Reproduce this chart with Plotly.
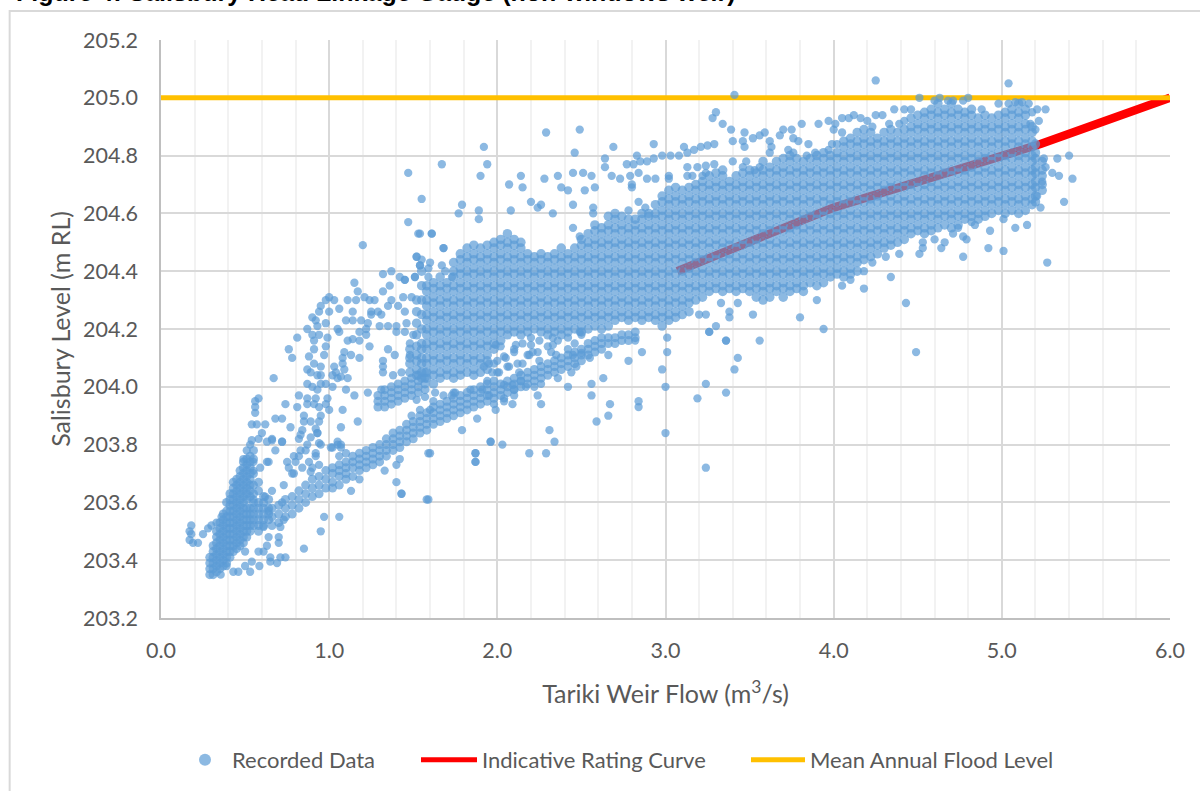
import plotly.graph_objects as go

# ---- Flow in m3/s, level in m RL. ----
# Main cloud: each row is one flow value and the levels read there, in cm above 204 m RL.
band_rows = [
(1.58,[3,5,8,10,13,15,18,20,23,25,28,30,33,35]),
(1.62,[1,4,6,9,11,14,16,19,21,24,26,29,31,34,36]),
(1.66,[3,5,8,10,13,15,18,20,23,25,28,30,33,35,38]),
(1.70,[4,6,9,11,14,16,19,21,24,26,29,31,34,36]),
(1.74,[3,5,8,10,13,15,18,20,23,25,28,30,33,35,38,40,43]),
(1.78,[4,6,9,11,14,16,19,21,24,26,29,31,34,36,39,41,44,46]),
(1.82,[5,8,10,13,15,18,20,23,25,28,30,33,35,38,40,43,45,48]),
(1.86,[4,6,9,11,14,16,19,21,24,26,29,31,34,36,39,41,44,46,49]),
(1.90,[5,8,10,13,15,18,20,23,25,28,30,33,35,38,40,43,45,48]),
(1.94,[6,9,11,14,16,19,21,24,26,29,31,34,36,39,41,44,46,49]),
(1.98,[13,15,18,20,23,25,28,30,33,35,38,40,43,45,48,50]),
(2.02,[16,19,21,24,26,29,31,34,36,39,41,44,46,49,51]),
(2.06,[18,20,23,25,28,30,33,35,38,40,43,45,48,50,53]),
(2.10,[19,21,24,26,29,31,34,36,39,41,44,46,49,51]),
(2.14,[18,20,23,25,28,30,33,35,38,40,43,45,48,50]),
(2.18,[19,21,24,26,29,31,34,36,39,41,44,46]),
(2.22,[20,23,25,28,30,33,35,38,40,43,45]),
(2.26,[19,21,24,26,29,31,34,36,39,41,44,46]),
(2.30,[18,20,23,25,28,30,33,35,38,40,43,45]),
(2.34,[19,21,24,26,29,31,34,36,39,41,44,46]),
(2.38,[18,20,23,25,28,30,33,35,38,40,43,45,48]),
(2.42,[19,21,24,26,29,31,34,36,39,41,44,46]),
(2.46,[20,23,25,28,30,33,35,38,40,43,45,48]),
(2.50,[19,21,24,26,29,31,34,36,39,41,44,46,49,51]),
(2.54,[20,23,25,28,30,33,35,38,40,43,45,48,50,53]),
(2.58,[21,24,26,29,31,34,36,39,41,44,46,49,51,54,56]),
(2.62,[20,23,25,28,30,33,35,38,40,43,45,48,50,53,55]),
(2.66,[21,24,26,29,31,34,36,39,41,44,46,49,51,54,56,59]),
(2.70,[23,25,28,30,33,35,38,40,43,45,48,50,53,55,58,60]),
(2.74,[24,26,29,31,34,36,39,41,44,46,49,51,54,56,59]),
(2.78,[23,25,28,30,33,35,38,40,43,45,48,50,53,55,58]),
(2.82,[24,26,29,31,34,36,39,41,44,46,49,51,54,56,58]),
(2.86,[23,25,28,30,33,35,38,40,43,45,48,50,53,55,58,60]),
(2.90,[24,26,29,31,34,36,39,41,44,46,49,51,54,56,59,60]),
(2.94,[23,25,28,30,33,35,38,40,43,45,48,50,53,55,58,60,63]),
(2.98,[21,24,26,29,31,34,36,39,41,44,46,49,51,54,56,59,61,64,66]),
(3.02,[23,25,28,30,33,35,38,40,43,45,48,50,53,55,58,60,63,65,68]),
(3.06,[24,26,29,31,34,36,39,41,44,46,49,51,54,56,59,61,64,66,69]),
(3.10,[25,28,30,33,35,38,40,43,45,48,50,53,55,58,60,63,65,68]),
(3.14,[26,29,31,34,36,39,41,44,46,49,51,54,56,59,61,64,66,69]),
(3.18,[30,33,35,38,40,43,45,48,50,53,55,58,60,63,65,68,70]),
(3.22,[31,34,36,39,41,44,46,49,51,54,56,59,61,64,66,69,71]),
(3.26,[33,35,38,40,43,45,48,50,53,55,58,60,63,65,68,70,73]),
(3.30,[34,36,39,41,44,46,49,51,54,56,59,61,64,66,69,71,74]),
(3.34,[33,35,38,40,43,45,48,50,53,55,58,60,63,65,68,70,73,75]),
(3.38,[34,36,39,41,44,46,49,51,54,56,59,61,64,66,69,71]),
(3.42,[33,35,38,40,43,45,48,50,53,55,58,60,63,65,68,70,73]),
(3.46,[34,36,39,41,44,46,49,51,54,56,59,61,64,66,69,71,74]),
(3.50,[33,35,38,40,43,45,48,50,53,55,58,60,63,65,68,70,73,75]),
(3.54,[31,34,36,39,41,44,46,49,51,54,56,59,61,64,66,69,71,74]),
(3.58,[30,33,35,38,40,43,45,48,50,53,55,58,60,63,65,68,70,73,75,78]),
(3.62,[31,34,36,39,41,44,46,49,51,54,56,59,61,64,66,69,71,74,76]),
(3.66,[33,35,38,40,43,45,48,50,53,55,58,60,63,65,68,70,73,75,78]),
(3.70,[31,34,36,39,41,44,46,49,51,54,56,59,61,64,66,69,71,74,76,79]),
(3.74,[33,35,38,40,43,45,48,50,53,55,58,60,63,65,68,70,73,75,78,80]),
(3.78,[34,36,39,41,44,46,49,51,54,56,59,61,64,66,69,71,74,76,79]),
(3.82,[33,35,38,40,43,45,48,50,53,55,58,60,63,65,68,70,73,75,78]),
(3.86,[36,39,41,44,46,49,51,54,56,59,61,64,66,69,71,74,76,79]),
(3.90,[35,38,40,43,45,48,50,53,55,58,60,63,65,68,70,73,75,78,80]),
(3.94,[36,39,41,44,46,49,51,54,56,59,61,64,66,69,71,74,76,79,81]),
(3.98,[38,40,43,45,48,50,53,55,58,60,63,65,68,70,73,75,78,80]),
(4.02,[39,41,44,46,49,51,54,56,59,61,64,66,69,71,74,76,79,81]),
(4.06,[38,40,43,45,48,50,53,55,58,60,63,65,68,70,73,75,78,80,83,85]),
(4.10,[39,41,44,46,49,51,54,56,59,61,64,66,69,71,74,76,79,81,84,86]),
(4.14,[40,43,45,48,50,53,55,58,60,63,65,68,70,73,75,78,80,83,85,88]),
(4.18,[44,46,49,51,54,56,59,61,64,66,69,71,74,76,79,81,84,86,89]),
(4.22,[45,48,50,53,55,58,60,63,65,68,70,73,75,78,80,83,85,88]),
(4.26,[46,49,51,54,56,59,61,64,66,69,71,74,76,79,81,84,86]),
(4.30,[48,50,53,55,58,60,63,65,68,70,73,75,78,80,83,85,88]),
(4.34,[49,51,54,56,59,61,64,66,69,71,74,76,79,81,84,86,89]),
(4.38,[50,53,55,58,60,63,65,68,70,73,75,78,80,83,85,88]),
(4.42,[51,54,56,59,61,64,66,69,71,74,76,79,81,84,86,89]),
(4.46,[53,55,58,60,63,65,68,70,73,75,78,80,83,85,88,90,93]),
(4.50,[54,56,59,61,64,66,69,71,74,76,79,81,84,86,89,91,94]),
(4.54,[53,55,58,60,63,65,68,70,73,75,78,80,83,85,88,90,93,95]),
(4.58,[54,56,59,61,64,66,69,71,74,76,79,81,84,86,89,91,94,96]),
(4.62,[55,58,60,63,65,68,70,73,75,78,80,83,85,88,90,93,95,98]),
(4.66,[56,59,61,64,66,69,71,74,76,79,81,84,86,89,91,94,96]),
(4.70,[55,58,60,63,65,68,70,73,75,78,80,83,85,88,90,93,95,98]),
(4.74,[56,59,61,64,66,69,71,74,76,79,81,84,86,89,91,94,96]),
(4.78,[58,60,63,65,68,70,73,75,78,80,83,85,88,90,93,95]),
(4.82,[59,61,64,66,69,71,74,76,79,81,84,86,89,91,94,96]),
(4.86,[58,60,63,65,68,70,73,75,78,80,83,85,88,90,93]),
(4.90,[59,61,64,66,69,71,74,76,79,81,84,86,89,91,94]),
(4.94,[60,63,65,68,70,73,75,78,80,83,85,88,90,93]),
(4.98,[61,64,66,69,71,74,76,79,81,84,86,89,91,94]),
(5.02,[60,63,65,68,70,73,75,78,80,83,85,88,90,93,95]),
(5.06,[61,64,66,69,71,74,76,79,81,84,86,89,91,94,96]),
(5.10,[60,63,65,68,70,73,75,78,80,83,85,88,90,93,95,98]),
(5.14,[61,64,66,69,71,74,76,79,81,84,86,89,91,94,96]),
(5.18,[63,65,68,70,73,75,78,80,83,85,88,90]),
(5.20,[64,66,69,71,74,76,79,81,84]),
(5.24,[68,70,73,75,78]),
(1.48,[5,8,10,13]),
(1.52,[4,6,9,11,14,18,22,26,30]),
(1.55,[3,5,8,10,13,15,20,25,30,35,40]),
]

# Dense lower-left cluster and the long lower arm: levels in cm above 203 m RL.
low_rows = [
(.29,[35,37,39,41]),(.31,[35,37,39,41,43,45]),(.33,[36,38,40,42,44,46,48,50]),(.35,[37,39,41,43,45,47,49,51,53]),
(.37,[38,40,42,44,46,48,50,52,54,56]),(.39,[39,41,43,45,47,49,51,53,55,57,60]),
(.41,[41,43,45,47,49,51,53,55,57,59,61,63]),(.43,[43,45,47,49,51,53,55,57,59,61,63,65,67]),
(.45,[44,46,48,50,52,54,56,58,60,62,64,66,68]),(.47,[45,47,49,51,53,55,57,59,61,63,65,67,69,71]),
(.49,[46,48,50,52,54,56,58,60,62,64,66,68,70,72,74]),(.51,[48,50,52,54,56,58,61,63,65,67,69,71,73,75]),
(.53,[50,52,54,56,58,62,64,66,68,70,72,74,76]),(.55,[52,54,56,58,60,63,66,70,75,78]),
(.58,[50,52,54,56,58,60,64,67]),(.61,[52,54,56,58,60,62]),(.64,[54,56,58,61]),
(.66,[52,55,58]),(.70,[53,56,59]),(.74,[55,58,61]),(.78,[56,59,62]),(.82,[58,61,64]),
(.86,[60,63,66]),(.90,[62,65,68]),(.94,[63,66,69]),(.98,[65,68,71]),(1.02,[65,67,70,72]),
(1.06,[66,69,71,73]),(1.10,[68,70,72,74]),(1.14,[69,72,74,76]),(1.18,[71,73,75,77]),(1.22,[72,74,76,78]),
(1.26,[73,75,77,79]),(1.30,[74,76,78,80]),(1.34,[76,78,80,82]),(1.38,[78,80,82,84]),(1.42,[79,81,83,85]),
(1.46,[81,83,85,87]),(1.50,[82,84,86,88]),(1.54,[84,86,88,90]),(1.58,[85,87,89,91]),(1.62,[87,89,91,93]),
(1.66,[88,90,92,94]),(1.70,[89,91,93,95]),(1.74,[90,92,94,96]),(1.78,[91,93,95,97]),(1.82,[92,94,96,98]),
(1.86,[93,95,97,99]),(1.90,[94,96,98,100]),(1.94,[95,97,99,101]),(1.98,[96,98,100,102]),(2.02,[97,99,101]),
(2.06,[98,100,102]),(2.10,[99,101,103]),(2.14,[100,102,104]),(2.18,[101,103,105]),(2.22,[102,104,106]),
(2.26,[103,105,107]),(2.30,[104,106,108]),(2.34,[105,107,109]),(2.38,[106,108,110]),(2.42,[107,109,111]),
(2.46,[108,110,112]),(2.50,[109,111,113]),(2.54,[111,113,115]),(2.58,[112,114,116]),(2.62,[113,115,117]),
(2.66,[115,117]),(2.70,[115,117]),(2.74,[116,118]),(2.78,[116,118]),(2.82,[117,119]),
(1.29,[93,95,97]),(1.33,[93,95,97,99]),(1.37,[94,96,98,100]),(1.41,[95,97,99,101]),(1.45,[96,98,100,102]),
(1.49,[97,99,101,103]),(1.53,[98,100,102,104]),(1.57,[99,101,103,105]),
]

# Scattered single points read one by one.
scatter_x = [
.17,.18,.17,.19,.22,.25,.28,.30,.33,.36,.18,.355,.39,.43,.46,.53,.585,.50,.54,.65,.65,.69,.71,.74,.85,.70,.63,.70,.64,.58,.61,.50,
.95,.97,1.06,1.13,1.18,1.33,1.40,1.42,1.40,1.43,1.58,1.60,.75,.79,.83,.87,.63,.55,.66,.62,.55,.73,.79,.89,.94,.72,.66,.95,.93,1.01,1.05,1.07,1.06,1.10,.72,.64,.61,.71,.73,
.76,.80,.84,.88,.92,.78,.82,.86,.90,
1.54,1.61,1.20,1.68,1.52,1.54,1.32,1.37,1.42,1.45,1.51,1.15,1.36,1.32,1.17,1.21,1.24,1.27,1.37,1.44,1.49,1.11,1.16,1.00,1.03,.98,.95,.94,1.06,1.00,1.14,1.25,1.29,1.35,1.41,1.45,1.31,1.25,.90,.92,.98,1.10,1.14,1.19,1.23,1.46,.87,.93,1.05,1.06,1.22,1.30,1.35,1.40,1.40,1.45,1.18,1.22,1.50,.81,.90,.94,.99,.91,1.11,1.14,1.18,1.48,.98,1.24,.76,.91,1.35,.78,.88,.97,1.09,1.13,1.08,1.18,1.39,1.48,1.32,.91,1.08,.95,1.32,1.03,1.09,.87,.89,.93,.95,1.04,1.02,1.05,1.07,1.11,1.32,1.38,1.43,.67,.87,.90,.95,.98,1.02,.93,1.10,1.23,1.31,1.15,.82,.87,.92,.99,.56,.58,.74,.87,.81,.91,.94,.98,1.00,1.08,.56,.56,.85,.95,.68,.72,1.17,.85,.89,.94,.54,.57,.62,.77,1.07,.92,.93,.84,.60,.58,.83,.82,.89,.72,.66,.54,.63,.94,1.05,1.07,1.02,.92,1.87,1.87,1.96,.53,.51,.49,.55,.64,.68,.59,
3.01,3.01,3.26,3.36,3.43,3.41,2.98,3.00,3.24,3.19,3.36,3.00,3.24,2.63,2.56,2.56,2.67,2.66,2.59,2.84,2.84,2.78,2.86,2.66,2.82,2.36,2.42,2.44,2.24,2.26,2.31,2.34,2.19,2.29,1.96,2.03,1.87,1.87,1.59,1.59,1.43,1.79,1.88,1.99,1.98,2.04,2.04,2.09,1.84,1.74,1.94,
2.29,2.49,1.92,2.69,2.93,3.11,2.46,1.67,1.94,2.83,2.64,2.64,1.47,1.90,2.14,2.28,2.36,2.45,2.51,2.56,2.68,2.73,2.79,2.84,2.89,2.94,2.07,2.15,2.38,2.42,2.52,2.58,2.80,2.80,3.02,3.02,3.13,3.13,3.16,3.22,3.24,1.55,2.20,2.45,2.26,2.24,1.79,1.89,1.77,2.08,1.89,2.33,2.57,2.57,2.78,2.84,2.88,1.47,1.53,1.61,2.45,2.49,1.68,1.52,1.55,1.54,1.67,1.69,1.73,1.51,1.45,
2.77,2.81,2.85,2.89,2.93,2.98,3.03,3.08,3.13,3.17,3.21,3.25,3.29,3.19,3.24,3.29,
1.95,2.00,2.05,2.10,2.15,2.20,2.00,2.06,2.12,2.18,2.24,2.30,2.36,2.42,2.46,2.50,
3.41,4.25,5.04,3.30,3.28,3.34,3.39,3.47,3.46,3.40,3.47,3.52,3.56,3.59,3.68,3.70,3.75,3.81,3.91,3.97,4.01,3.76,3.79,3.85,3.62,3.63,3.62,3.73,3.76,3.40,3.48,3.46,3.53,3.56,3.84,3.89,3.97,3.99,4.02,4.00,4.05,4.05,4.09,4.12,4.16,4.20,4.23,4.33,4.25,4.29,4.36,4.42,4.46,4.39,4.42,4.51,4.60,4.63,4.68,4.71,4.77,4.80,4.88,4.98,5.04,5.08,5.12,5.16,5.21,5.26,5.18,5.17,5.22,5.20,
5.33,5.40,5.30,5.34,5.42,5.37,5.23,5.08,5.15,5.01,5.01,4.92,4.77,5.27,4.79,4.77,4.93,4.82,4.84,4.71,4.74,4.66,4.64,4.60,4.53,4.53,4.51,5.25,5.26,5.24,5.21,
4.39,4.31,4.23,4.18,4.10,4.05,4.34,4.43,4.18,3.90,3.80,3.94,3.52,3.38,3.38,3.43,3.33,3.30,3.26,3.36,3.56,3.24,3.20,4.49,1.59,1.59,1.60,
1.92,1.98,2.04,2.10,2.07,2.13,2.15,2.19,2.21,2.25,2.32,2.35,2.33,2.11,2.02,1.99,2.20,2.25,2.33,2.42,2.49,2.45,2.50,2.55,2.47,1.97,2.01,1.91,1.95,2.10,2.10,2.17,2.22,2.26,2.14,2.09,2.04,1.75,1.73,1.49,1.54,1.60,1.62,1.68,1.52,1.57,1.63,
]
scatter_y = [
203.50,203.52,203.47,203.46,203.46,203.49,203.51,203.52,203.53,203.55,203.49,203.35,203.38,203.36,203.36,203.36,203.38,203.38,203.395,203.41,203.395,203.39,203.41,203.41,203.44,203.46,203.45,203.48,203.48,203.43,203.43,203.43,
203.50,203.55,203.55,203.64,203.68,203.71,203.73,203.75,203.67,203.63,203.61,203.77,203.74,203.76,203.78,203.80,203.74,203.71,203.64,203.62,203.61,203.66,203.70,203.706,203.73,203.81,203.815,203.80,203.84,203.79,203.80,203.79,203.76,203.77,203.60,203.57,203.515,203.515,203.54,
203.72,203.74,203.72,203.74,203.76,203.70,203.76,203.78,203.72,
204.53,204.53,204.49,204.48,204.45,204.42,204.39,204.40,204.38,204.37,204.38,204.36,204.35,204.33,204.33,204.31,204.30,204.30,204.30,204.31,204.31,204.30,204.30,204.31,204.30,204.30,204.28,204.26,204.27,204.26,204.26,204.26,204.26,204.28,204.28,204.26,204.25,204.25,204.24,204.23,204.22,204.23,204.23,204.23,204.22,204.22,204.20,204.21,204.20,204.19,204.20,204.21,204.21,204.21,204.19,204.19,204.19,204.18,204.18,204.17,204.18,204.18,204.17,204.16,204.16,204.165,204.16,204.15,204.14,204.14,204.13,204.13,204.13,204.10,204.105,204.11,204.12,204.11,204.10,204.10,204.11,204.11,204.09,204.08,204.08,204.07,204.07,204.07,204.06,204.06,204.05,204.04,204.04,204.05,204.04,204.03,204.035,204.03,204.05,204.04,204.05,204.03,204.01,204.00,204.01,204.01,204.00,203.99,203.99,203.98,203.99,203.97,203.97,203.96,203.96,203.96,203.95,203.96,203.94,203.94,203.93,203.94,203.93,203.94,203.92,203.92,203.93,203.91,203.90,203.90,203.89,203.89,203.88,203.88,203.88,203.88,203.87,203.87,203.87,203.86,203.86,203.855,203.84,203.85,203.84,203.82,203.834,203.82,203.825,203.81,203.82,203.815,203.81,203.805,203.81,203.80,203.79,203.77,203.77,203.74,203.81,203.80,203.78,203.75,203.74,203.74,203.78,203.72,
204.17,204.12,204.19,204.16,204.10,204.06,204.06,204.00,204.01,203.96,203.98,203.84,203.72,204.03,204.01,203.97,203.94,203.90,203.88,203.95,203.93,204.09,204.12,204.11,204.16,204.03,204.00,204.05,203.97,203.94,203.85,203.81,203.77,203.77,203.81,203.80,203.77,203.74,203.77,203.61,203.63,203.85,203.89,203.92,203.94,203.96,203.95,203.94,203.99,203.98,204.02,
204.88,204.89,204.83,204.83,204.84,204.83,204.81,204.77,204.77,204.80,204.79,204.76,204.74,204.73,204.73,204.72,204.73,204.74,204.74,204.73,204.73,204.72,204.73,204.74,204.72,204.72,204.70,204.69,204.69,204.68,204.68,204.69,204.70,204.69,204.73,204.72,204.76,204.73,204.73,204.73,204.74,204.65,204.64,204.63,204.63,204.62,204.63,204.61,204.60,204.61,204.58,204.60,204.62,204.60,204.61,204.64,204.62,204.57,204.53,204.53,204.55,204.52,204.48,204.45,204.44,204.42,204.42,204.40,204.38,204.38,204.37,
204.77,204.77,204.78,204.78,204.79,204.80,204.80,204.80,204.81,204.82,204.83,204.835,204.84,204.76,204.765,204.77,
204.08,204.09,204.10,204.13,204.15,204.17,204.05,204.07,204.08,204.11,204.12,204.14,204.16,204.13,204.15,204.18,
205.01,205.06,205.05,204.95,204.93,204.91,204.89,204.88,204.85,204.85,204.83,204.86,204.87,204.88,204.87,204.89,204.89,204.91,204.91,204.92,204.91,204.86,204.85,204.84,204.85,204.83,204.81,204.82,204.81,204.78,204.78,204.76,204.75,204.76,204.80,204.81,204.82,204.84,204.84,204.89,204.88,204.93,204.93,204.94,204.93,204.92,204.90,204.91,204.94,204.94,204.96,204.96,204.96,204.91,204.92,205.00,204.99,205.00,204.99,204.99,204.99,205.00,204.96,204.98,204.98,204.985,204.985,204.98,204.96,204.96,204.95,204.91,204.92,204.89,
204.79,204.80,204.74,204.73,204.72,204.64,204.62,204.55,204.56,204.58,204.47,204.48,204.45,204.43,204.51,204.52,204.54,204.57,204.56,204.53,204.55,204.50,204.48,204.51,204.50,204.48,204.46,204.79,204.76,204.71,204.66,
204.46,204.45,204.43,204.40,204.37,204.35,204.38,204.29,204.34,204.30,204.24,204.20,204.25,204.24,204.26,204.29,204.29,204.21,204.19,204.16,204.16,204.25,204.25,204.12,204.38,204.41,204.43,
204.07,204.08,204.105,204.12,204.07,204.05,204.08,204.11,204.12,204.09,204.12,204.11,204.145,204.145,204.14,204.145,204.145,204.16,204.17,204.17,204.19,204.11,204.117,204.10,204.07,204.05,204.05,203.99,203.97,203.97,203.99,204.00,204.00,204.01,204.02,204.007,204.007,203.98,203.97,203.90,203.92,203.92,203.95,203.97,203.955,203.965,203.98,
]

rating_flow = [3.07, 4.0, 5.23, 6.0]
rating_level = [204.40, 204.62, 204.84, 205.0]
flood_flow = [0.0, 6.0]
flood_level = [205.0, 205.0]

title_text = "Figure 4: Salisbury Head Linkage Gauge (non-windows weir)"
x_title = "Tariki Weir Flow (m<sup>3</sup>/s)"
y_title = "Salisbury Level (m RL)"
names = ["Recorded Data", "Indicative Rating Curve", "Mean Annual Flood Level"]

rec_x, rec_y, rec_size = [], [], []
for x, levels in band_rows:
    rec_x += [x] * len(levels)
    rec_y += [204 + v / 100 for v in levels]
    rec_size += [9.5] * len(levels)
for x, levels in low_rows:
    rec_x += [x] * len(levels)
    rec_y += [203 + v / 100 for v in levels]
    rec_size += [9] * len(levels)
n = min(len(scatter_x), len(scatter_y))
rec_x += scatter_x[:n]
rec_y += scatter_y[:n]
rec_size += [8.3] * n
print(len(scatter_x), len(scatter_y), len(rec_x))

FONT = "Lato, Carlito, sans-serif"
GREY = "#595959"
def legend_at(px, width):
    return dict(x=(px - 161) / 1009, xanchor="left", y=-0.2457, yanchor="middle", orientation="h",
                font=dict(size=22, color=GREY), itemwidth=width, bgcolor="rgba(0,0,0,0)", borderwidth=0,
                itemsizing="constant")

fig = go.Figure()
fig.add_trace(go.Scatter(x=rating_flow, y=rating_level, mode="lines", name=names[1], legend="legend2",
                         line=dict(color="#FF0000", width=8.5)))
fig.add_trace(go.Scatter(x=flood_flow, y=flood_level, mode="lines", name=names[2], legend="legend3",
                         line=dict(color="#FFC000", width=5)))
fig.add_trace(go.Scatter(x=rec_x, y=rec_y, mode="markers", name=names[0], legend="legend",
                         marker=dict(color="#5B9BD5", size=rec_size, line=dict(width=0))))

fig.update_layout(
    width=1200, height=791, paper_bgcolor="white", plot_bgcolor="white",
    margin=dict(l=161, r=30, t=40, b=173, autoexpand=False),
    font=dict(family=FONT, size=21, color=GREY),
    showlegend=True,
    legend=legend_at(178, 44), legend2=legend_at(416, 56), legend3=legend_at(746, 54),
    shapes=[dict(type="rect", xref="paper", yref="paper", layer="below",
                 x0=-0.150, x1=1.2, y0=-0.4, y1=1.05,
                 line=dict(color="#D9D9D9", width=2), fillcolor="rgba(0,0,0,0)")],
    annotations=[dict(text="<b>" + title_text + "</b>", xref="paper", yref="paper", x=-0.1457, y=1.056,
                      xanchor="left", yanchor="bottom", showarrow=False,
                      font=dict(family="Liberation Sans", size=25, color="black"))],
)
fig.update_xaxes(range=[0, 6], dtick=1, tickformat=".1f", showgrid=True, gridcolor="#D9D9D9", gridwidth=1.5,
                 minor=dict(dtick=0.2, showgrid=True, gridcolor="#F2F2F2", gridwidth=1.5),
                 showline=True, linecolor="#BFBFBF", linewidth=1.5, ticks="", zeroline=False,
                 ticklabelstandoff=12, tickfont=dict(size=21.5),
                 title=dict(text=x_title, standoff=24), automargin=False)
fig.update_yaxes(range=[203.2, 205.2], dtick=0.2, tickformat=".1f", showgrid=True, gridcolor="#D9D9D9", gridwidth=1.5,
                 showline=True, linecolor="#BFBFBF", linewidth=1.5, ticks="", zeroline=False,
                 ticklabelstandoff=17, tickfont=dict(size=21.5),
                 title=dict(text=y_title, standoff=5), automargin=False)
fig.write_html("out.html", config=dict(displayModeBar=False),
               post_script="document.body.style.margin='0';document.body.style.overflow='hidden';")
